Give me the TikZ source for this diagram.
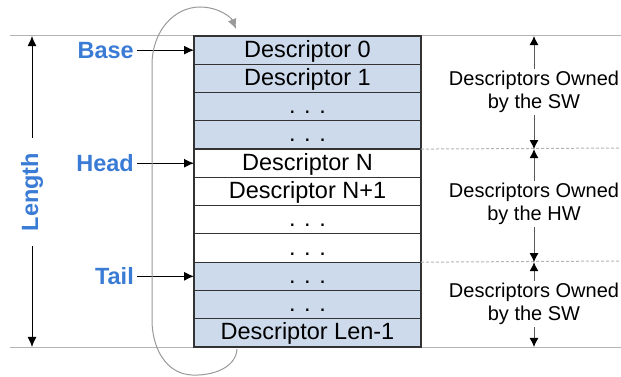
\documentclass[tikz,border=0pt]{standalone}
\usepackage{fontspec}
\setmainfont{Liberation Sans}
\usetikzlibrary{arrows.meta,positioning}
\definecolor{swfill}{HTML}{CCDAEC}
\definecolor{labelblue}{HTML}{3A7BD5}
\definecolor{guidegray}{HTML}{B4B4B4}
\tikzset{
  swrow/.style={draw=black!80,fill=swfill,line width=1.2pt,minimum width=227pt,minimum height=28.27pt,
    inner sep=0pt,outer sep=0pt,text height=19pt,text depth=5pt,font=\fontsize{23.5}{26}\selectfont},
  hwrow/.style={swrow,fill=white},
  ptrlabel/.style={text=labelblue,font=\fontsize{23.5}{26}\selectfont\bfseries,inner sep=3pt},
  ownlabel/.style={align=center,inner sep=2pt,font=\fontsize{20}{23}\selectfont},
  guide/.style={draw=guidegray,line width=1pt},
  flow/.style={-{Latex[length=10pt,width=9pt]},line width=1pt},
  span/.style={-{Latex[length=9pt,width=9pt,color=black]},draw=black!65,line width=1pt},
  wrap/.style={-{Latex[length=10pt,width=9pt]},draw=gray!80,line width=1pt},
}

\begin{document}
\begin{tikzpicture}[x=1pt,y=-1pt,node distance=0pt]
  \useasboundingbox (0,0) rectangle (621,377);

  % outer guide lines
  \draw[guide] (10,36) -- (621,36);
  \draw[guide] (10,347) -- (621,347);

  % descriptor ring
  \node[swrow] (r0) at (307.5,50.14) {Descriptor 0};
  \node[swrow,below=of r0] (r1) {Descriptor 1};
  \node[swrow,below=of r1] (r2) {. . .};
  \node[swrow,below=of r2] (r3) {. . .};
  \node[hwrow,below=of r3] (r4) {Descriptor N};
  \node[hwrow,below=of r4] (r5) {Descriptor N+1};
  \node[hwrow,below=of r5] (r6) {. . .};
  \node[hwrow,below=of r6] (r7) {. . .};
  \node[swrow,below=of r7] (r8) {. . .};
  \node[swrow,below=of r8] (r9) {. . .};
  \node[swrow,below=of r9] (r10) {Descriptor Len-1};

  \draw[guide,dash pattern=on 3pt off 2pt] (r3.south east) -- (621,148);
  \draw[guide,dash pattern=on 3pt off 2pt] (r7.south east) -- (621,261);

  % pointers
  \node[ptrlabel,left=57pt of r0] (base) {Base};
  \node[ptrlabel,left=57pt of r4] (head) {Head};
  \node[ptrlabel,left=57pt of r8] (tail) {Tail};
  \draw[flow] (base) -- (r0);
  \draw[flow] (head) -- (r4);
  \draw[flow] (tail) -- (r8);

  % length
  \node[ptrlabel,rotate=90,inner xsep=15pt] (len) at (32,192) {Length};
  \draw[flow] (len.east) -- (len.east |- r0.north);
  \draw[flow] (len.west) -- (len.west |- r10.south);

  % ownership
  \node[ownlabel] (ownsw) at (534,92) {Descriptors Owned\\by the SW};
  \node[ownlabel] (ownhw) at (534,204) {Descriptors Owned\\by the HW};
  \node[ownlabel] (ownsw2) at (534,304) {Descriptors Owned\\by the SW};
  \draw[span] (ownsw) -- (ownsw |- r0.north);
  \draw[span] (ownsw) -- (ownsw |- r3.south);
  \draw[span] (ownhw) -- (ownhw |- r4.north);
  \draw[span] (ownhw) -- (ownhw |- r7.south);
  \draw[span] (ownsw2) -- (ownsw2 |- r8.north);
  \draw[span] (ownsw2) -- (ownsw2 |- r10.south);

  % wrap around
  \coordinate (loopout) at (237,349);
  \coordinate (loopin) at (236,29);
  \draw[wrap] (loopout) .. controls (236,368) and (212,376) .. (192,375)
    .. controls (166,374) and (152,348) .. (152,320) -- (152,65)
    .. controls (152,30) and (175,7) .. (200,7)
    .. controls (218,7) and (231,17) .. (loopin);
\end{tikzpicture}
\end{document}
